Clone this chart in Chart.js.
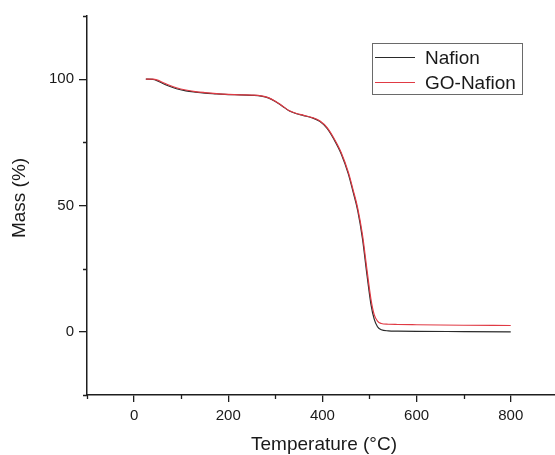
<!DOCTYPE html>
<html>
<head>
<meta charset="utf-8">
<script src="https://cdn.jsdelivr.net/npm/chart.js@4.4.1/dist/chart.umd.min.js"></script>
<style>
  html, body { margin: 0; padding: 0; background: #ffffff; overflow: hidden; }
  #wrap { width: 555px; height: 455px; position: relative; }
</style>
</head>
<body>
<div id="wrap"><canvas id="c" width="555" height="455"></canvas></div>
<script>
// ---- data ----
const temperature = [25, 40, 50, 60, 75, 90, 110, 130, 150, 175, 200, 225, 250, 270, 285, 300, 315, 330, 345, 360, 380, 395, 410, 425, 440, 455, 465, 475, 485, 495, 503, 510, 517, 525, 540, 560, 600, 700, 800];
const nafion = [100, 99.9, 99.3, 98.4, 97.2, 96.2, 95.4, 94.9, 94.5, 94.2, 93.9, 93.8, 93.6, 93.3, 92.6, 91.2, 89.3, 87.4, 86.3, 85.6, 84.6, 83.2, 80.5, 76.0, 70.4, 62.5, 55.5, 48.0, 37.0, 22.0, 11.0, 5.0, 2.0, 0.8, 0.4, 0.3, 0.2, 0.1, 0.0];
const goNafion = [100, 100, 99.6, 98.8, 97.6, 96.6, 95.7, 95.1, 94.7, 94.3, 94.0, 93.8, 93.7, 93.4, 92.7, 91.3, 89.4, 87.5, 86.4, 85.7, 84.7, 83.4, 80.8, 76.4, 70.9, 63.2, 56.3, 48.9, 38.5, 24.0, 13.0, 6.8, 4.2, 3.3, 3.0, 2.9, 2.8, 2.6, 2.5];
const seriesNames = ['Nafion', 'GO-Nafion'];
const xTickValues = [0, 200, 400, 600, 800];
const xMinorTickValues = [-100, 100, 300, 500, 700];
const yTickValues = [0, 50, 100];
const yMinorTickValues = [-25, 25, 75, 125];
const xTitle = 'Temperature (°C)';
const yTitle = 'Mass (%)';

const FONT = "'Liberation Sans', Arial, Helvetica, sans-serif";
const AXIS_COLOR = '#1e1e1e';
const seriesColors = ['#2a2a2a', '#e03a44'];

const toPoints = (ys) => temperature.map((t, i) => ({ x: t, y: ys[i] }));

// minor ticks, axis titles and framed legend
const decorations = {
  id: 'decorations',
  afterDraw(chart) {
    const ctx = chart.ctx;
    const xs = chart.scales.x, ys = chart.scales.y;
    const area = chart.chartArea;
    ctx.save();
    ctx.strokeStyle = AXIS_COLOR;
    ctx.lineWidth = 1.3;
    ctx.beginPath();
    xMinorTickValues.forEach(v => {
      const px = Math.round(xs.getPixelForValue(v)) + 0.5;
      ctx.moveTo(px, area.bottom);
      ctx.lineTo(px, area.bottom + 4);
    });
    yMinorTickValues.forEach(v => {
      const py = Math.round(ys.getPixelForValue(v)) + 0.5;
      ctx.moveTo(area.left, py);
      ctx.lineTo(area.left - 4, py);
    });
    ctx.stroke();

    // axis titles
    ctx.fillStyle = '#1a1a1a';
    ctx.font = '19px ' + FONT;
    ctx.textAlign = 'center';
    ctx.textBaseline = 'alphabetic';
    ctx.fillText(xTitle, 324, 450);
    ctx.save();
    ctx.translate(25, 198);
    ctx.rotate(-Math.PI / 2);
    ctx.fillText(yTitle, 0, 0);
    ctx.restore();

    // legend
    const bx = 372.5, by = 43.5, bw = 150, bh = 51;
    ctx.strokeStyle = '#6a6a6a';
    ctx.lineWidth = 1;
    ctx.strokeRect(bx, by, bw, bh);
    ctx.font = '19px ' + FONT;
    ctx.textAlign = 'left';
    chart.data.datasets.forEach((ds, i) => {
      const ly = 57 + i * 25;
      ctx.strokeStyle = ds.borderColor;
      ctx.lineWidth = 1;
      ctx.beginPath();
      ctx.moveTo(375, ly + 0.5);
      ctx.lineTo(415, ly + 0.5);
      ctx.stroke();
      ctx.fillStyle = '#1a1a1a';
      ctx.fillText(ds.label, 425, ly + 6.5);
    });
    ctx.restore();
  }
};

new Chart(document.getElementById('c'), {
  type: 'line',
  data: {
    datasets: [
      { label: seriesNames[0], data: toPoints(nafion), borderColor: seriesColors[0], borderWidth: 1.2, pointRadius: 0, cubicInterpolationMode: 'monotone', fill: false, order: 1 },
      { label: seriesNames[1], data: toPoints(goNafion), borderColor: seriesColors[1], borderWidth: 1.2, pointRadius: 0, cubicInterpolationMode: 'monotone', fill: false, order: 0 }
    ]
  },
  options: {
    responsive: false,
    animation: false,
    events: [],
    layout: { padding: { top: 16, left: 0, right: 0, bottom: 0 } },
    plugins: { legend: { display: false }, tooltip: { enabled: false }, title: { display: false } },
    scales: {
      x: {
        type: 'linear',
        min: -100,
        max: 894,
        afterBuildTicks: (s) => { s.ticks = xTickValues.map(v => ({ value: v })); },
        afterFit: (s) => { s.height = 60; },
        ticks: { color: '#1a1a1a', font: { family: FONT, size: 15 }, padding: 5, maxRotation: 0, autoSkip: false, callback: (v) => String(v) },
        grid: { display: true, drawOnChartArea: false, drawTicks: true, tickLength: 7, color: AXIS_COLOR, lineWidth: 1.3 },
        border: { display: true, color: AXIS_COLOR, width: 1.5 },
        title: { display: false }
      },
      y: {
        type: 'linear',
        min: -25,
        max: 125,
        afterBuildTicks: (s) => { s.ticks = yTickValues.map(v => ({ value: v })); },
        afterFit: (s) => { s.width = 87; },
        ticks: { color: '#1a1a1a', font: { family: FONT, size: 15 }, padding: 5, autoSkip: false, callback: (v) => String(v) },
        grid: { display: true, drawOnChartArea: false, drawTicks: true, tickLength: 8, color: AXIS_COLOR, lineWidth: 1.3 },
        border: { display: true, color: AXIS_COLOR, width: 1.5 },
        title: { display: false }
      }
    }
  },
  plugins: [decorations]
});
</script>
</body>
</html>
